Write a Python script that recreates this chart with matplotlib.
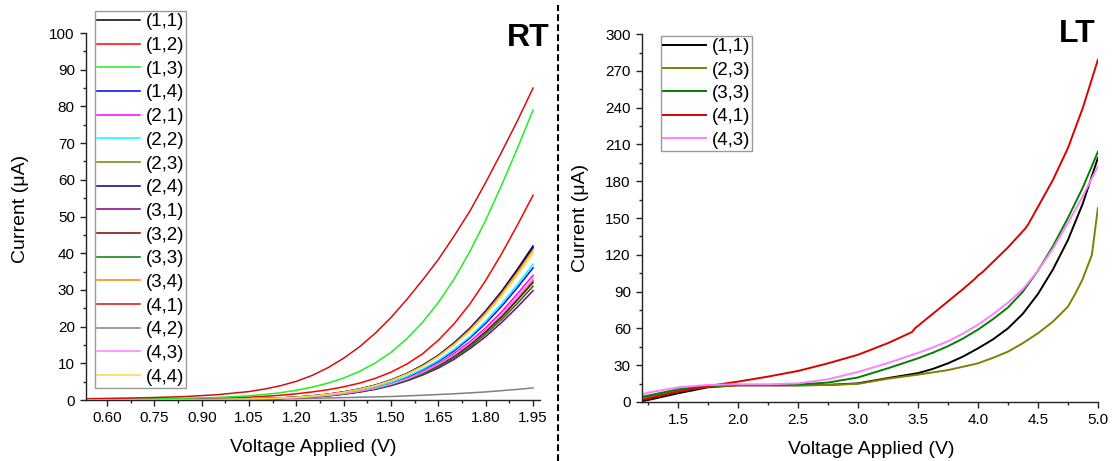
import matplotlib
matplotlib.use("Agg")
import matplotlib.pyplot as plt
from matplotlib.lines import Line2D
from matplotlib.ticker import MultipleLocator, FormatStrFormatter

plt.rcParams["font.family"] = ["Liberation Sans", "DejaVu Sans"]

# --- RT data (room temperature) ---
rt_v = [0.533, 0.65, 0.75, 0.85, 0.95, 1.05, 1.1, 1.15, 1.2, 1.25, 1.3, 1.35,
        1.4, 1.45, 1.5, 1.55, 1.6, 1.65, 1.7, 1.75, 1.8, 1.85, 1.9, 1.95]
rt_labels = ["(1,1)", "(1,2)", "(1,3)", "(1,4)", "(2,1)", "(2,2)", "(2,3)", "(2,4)",
             "(3,1)", "(3,2)", "(3,3)", "(3,4)", "(4,1)", "(4,2)", "(4,3)", "(4,4)"]
rt_i11 = [0.01, 0.02, 0.04, 0.07, 0.13, 0.27, 0.38, 0.56, 0.79, 1.12, 1.57, 2.2,
          3.0, 4.05, 5.4, 7.2, 9.4, 12.1, 15.5, 19.4, 24.0, 29.3, 35.2, 41.5]
rt_i12 = [0.06, 0.1, 0.16, 0.27, 0.45, 0.78, 1.0, 1.3, 1.7, 2.2, 2.8, 3.6,
          4.6, 5.9, 7.6, 9.8, 12.6, 16.3, 20.8, 26.2, 32.6, 39.8, 47.6, 55.8]
rt_i13 = [0.12, 0.2, 0.3, 0.45, 0.7, 1.15, 1.5, 2.0, 2.65, 3.5, 4.6, 6.0,
          7.8, 10.1, 13.0, 16.7, 21.2, 26.6, 33, 40.5, 49, 58.5, 68.5, 79]
rt_i14 = [0.01, 0.02, 0.035, 0.06, 0.11, 0.24, 0.33, 0.48, 0.68, 0.97, 1.36, 1.9,
          2.6, 3.5, 4.7, 6.2, 8.2, 10.5, 13.4, 16.9, 20.9, 25.5, 30.6, 36]
rt_i21 = [0.01, 0.02, 0.03, 0.06, 0.11, 0.22, 0.32, 0.46, 0.65, 0.91, 1.28, 1.78,
          2.45, 3.3, 4.4, 5.9, 7.7, 9.9, 12.7, 15.9, 19.7, 24.0, 28.9, 34]
rt_i22 = [0.01, 0.02, 0.035, 0.06, 0.12, 0.24, 0.34, 0.5, 0.7, 1.0, 1.4, 1.95,
          2.65, 3.6, 4.8, 6.4, 8.4, 10.8, 13.8, 17.3, 21.5, 26.2, 31.4, 37]
rt_i23 = [0.01, 0.02, 0.03, 0.06, 0.1, 0.21, 0.3, 0.44, 0.62, 0.87, 1.23, 1.7,
          2.35, 3.15, 4.25, 5.6, 7.4, 9.5, 12.1, 15.2, 18.9, 23.0, 27.6, 32.5]
rt_i24 = [0.01, 0.02, 0.04, 0.07, 0.13, 0.28, 0.39, 0.56, 0.8, 1.12, 1.58, 2.2,
          3.0, 4.05, 5.45, 7.2, 9.5, 12.2, 15.6, 19.6, 24.3, 29.6, 35.6, 42]
rt_i31 = [0.01, 0.015, 0.03, 0.05, 0.09, 0.2, 0.28, 0.4, 0.57, 0.8, 1.13, 1.56,
          2.15, 2.9, 3.9, 5.2, 6.8, 8.7, 11.1, 14.0, 17.3, 21.1, 25.3, 29.8]
rt_i32 = [0.01, 0.02, 0.03, 0.05, 0.1, 0.21, 0.3, 0.43, 0.61, 0.86, 1.21, 1.68,
          2.3, 3.1, 4.2, 5.5, 7.3, 9.4, 11.9, 15.0, 18.6, 22.6, 27.2, 32]
rt_i33 = [0.01, 0.02, 0.03, 0.05, 0.1, 0.2, 0.29, 0.42, 0.59, 0.83, 1.17, 1.63,
          2.25, 3.0, 4.05, 5.4, 7.0, 9.1, 11.6, 14.5, 18.0, 21.9, 26.3, 31]
rt_i34 = [0.01, 0.02, 0.04, 0.07, 0.13, 0.27, 0.38, 0.55, 0.78, 1.1, 1.55, 2.15,
          2.95, 4.0, 5.35, 7.1, 9.3, 12.0, 15.3, 19.2, 23.8, 29.0, 34.8, 41]
rt_i41 = [0.35, 0.5, 0.68, 0.95, 1.45, 2.3, 3.0, 3.9, 5.1, 6.7, 8.8, 11.4,
          14.5, 18.2, 22.5, 27.4, 32.7, 38.3, 44.7, 51.5, 59.3, 67.5, 76, 85]
rt_i42 = [0.02, 0.03, 0.06, 0.11, 0.17, 0.25, 0.29, 0.34, 0.4, 0.48, 0.56, 0.65,
          0.75, 0.85, 0.95, 1.12, 1.3, 1.5, 1.7, 1.95, 2.2, 2.55, 2.9, 3.3]
rt_i43 = [0.01, 0.02, 0.03, 0.06, 0.1, 0.22, 0.31, 0.44, 0.63, 0.89, 1.25, 1.73,
          2.4, 3.2, 4.3, 5.7, 7.5, 9.7, 12.3, 15.5, 19.2, 23.3, 28.0, 33]
rt_i44 = [0.01, 0.02, 0.04, 0.07, 0.13, 0.26, 0.37, 0.54, 0.76, 1.08, 1.52, 2.1,
          2.9, 3.9, 5.25, 7.0, 9.1, 11.8, 15.0, 18.8, 23.3, 28.3, 34.0, 40]
rt_currents = [rt_i11, rt_i12, rt_i13, rt_i14, rt_i21, rt_i22, rt_i23, rt_i24,
               rt_i31, rt_i32, rt_i33, rt_i34, rt_i41, rt_i42, rt_i43, rt_i44]
rt_colors = ["#000000", "#FF0000", "#22EE22", "#0000FF", "#FF00FF", "#00FFFF", "#808000", "#000080",
             "#800080", "#800000", "#008000", "#FF8000", "#D01010", "#808080", "#FF80FF", "#EEDD44"]

# --- LT data (low temperature) ---
lt_labels = ["(1,1)", "(2,3)", "(3,3)", "(4,1)", "(4,3)"]
lt_v = [1.2, 1.25, 1.5, 1.75, 2.0, 2.25, 2.5, 2.75, 3.0, 3.25, 3.5, 3.625,
        3.75, 3.875, 4.0, 4.125, 4.25, 4.375, 4.5, 4.625, 4.75, 4.875, 5.0]
lt_i11 = [0.7, 1.6, 7.1, 12, 13.6, 13.6, 13.6, 13.9, 15.2, 19.5, 23.5, 27,
          31.5, 37, 43.7, 51, 60, 72, 88, 108, 132, 162, 199]
lt_i33 = [4.3, 5.2, 10.3, 13.3, 13.9, 13.9, 14.3, 15.8, 20, 27.5, 35.6, 40.2,
          45.5, 51.7, 59, 67.5, 77, 90, 107, 127, 150, 175, 204]
lt_i43 = [6.2, 7.6, 12, 13.9, 14.4, 14.4, 15.2, 18.5, 24.5, 31.8, 40, 44.5,
          49.5, 55.8, 63, 71.5, 81, 92, 107, 125, 146, 168, 192]
lt_v23 = [1.2, 1.25, 1.5, 1.75, 2.0, 2.25, 2.5, 2.75, 3.0, 3.25, 3.5, 3.75, 4.0,
          4.125, 4.25, 4.375, 4.5, 4.625, 4.75, 4.81, 4.87, 4.95, 5.0]
lt_i23 = [3, 4.3, 9, 12.5, 13.6, 13.6, 13.6, 13.9, 14.8, 19, 22.3, 26, 31.5,
          36, 41, 48, 56, 65.5, 77.7, 88, 99.5, 120, 158]
lt_v41 = [1.2, 1.25, 1.5, 1.75, 2.0, 2.25, 2.5, 2.75, 3.0, 3.25, 3.45, 3.48, 3.5, 3.625,
          3.75, 3.875, 3.97, 4.0, 4.04, 4.25, 4.4, 4.42, 4.5, 4.625, 4.75, 4.875, 5.0]
lt_i41 = [1.6, 3, 8.4, 13, 16.6, 20.7, 25.3, 31.5, 38.5, 48, 57, 60.5, 62, 72,
          82, 92, 100, 103, 106, 126, 142, 145, 159, 181, 207, 240, 279]
lt_series = [(lt_v, lt_i11), (lt_v23, lt_i23), (lt_v, lt_i33), (lt_v41, lt_i41), (lt_v, lt_i43)]
lt_colors = ["#000000", "#808000", "#008000", "#DD0000", "#FF80FF"]

fig = plt.figure(figsize=(11.12, 4.61), dpi=100)
ax1 = fig.add_axes([0.0773, 0.1323, 0.4083, 0.796])
ax2 = fig.add_axes([0.5773, 0.128, 0.410, 0.798])


def style_axes(ax):
    for s in ["top", "right"]:
        ax.spines[s].set_visible(False)
    for s in ["left", "bottom"]:
        ax.spines[s].set_linewidth(1.0)
        ax.spines[s].set_color("#222222")
    ax.tick_params(which="major", direction="out", length=4.5, width=1.0,
                   labelsize=11, color="#222222", pad=3.5)
    ax.tick_params(which="minor", direction="out", length=2.5, width=1.0, color="#222222")


def add_legend(ax, anchor, spacing):
    leg = ax.legend(loc="upper left", bbox_to_anchor=anchor, borderaxespad=0,
                    fontsize=13.5, handlelength=2.3, handletextpad=0.27, labelspacing=spacing,
                    borderpad=0.12, fancybox=False, framealpha=1, edgecolor="#999999")
    leg.get_frame().set_linewidth(1.0)
    return leg


# ---- RT ----
for cur, col, lab in zip(rt_currents, rt_colors, rt_labels):
    ax1.plot(rt_v, cur, color=col, linewidth=1.1, label=lab)
ax1.set_xlim(0.533, 1.972)
ax1.set_ylim(0, 100)
ax1.xaxis.set_major_locator(MultipleLocator(0.15))
ax1.xaxis.set_minor_locator(MultipleLocator(0.075))
ax1.xaxis.set_major_formatter(FormatStrFormatter("%.2f"))
ax1.yaxis.set_major_locator(MultipleLocator(10))
ax1.yaxis.set_minor_locator(MultipleLocator(5))
style_axes(ax1)
ax1.set_xlabel("Voltage Applied (V)", fontsize=14)
ax1.set_ylabel("Current (μA)", fontsize=14)
ax1.xaxis.set_label_coords(0.5, -0.105)
ax1.yaxis.set_label_coords(-0.126, 0.52)
add_legend(ax1, (0.02, 1.06), 0.35)

# ---- LT ----
for (v, cur), col, lab in zip(lt_series, lt_colors, lt_labels):
    ax2.plot(v, cur, color=col, linewidth=1.4, label=lab)
ax2.set_xlim(1.2, 5.0)
ax2.set_ylim(0, 300)
ax2.xaxis.set_major_locator(MultipleLocator(0.5))
ax2.xaxis.set_minor_locator(MultipleLocator(0.25))
ax2.xaxis.set_major_formatter(FormatStrFormatter("%.1f"))
ax2.yaxis.set_major_locator(MultipleLocator(30))
ax2.yaxis.set_minor_locator(MultipleLocator(15))
style_axes(ax2)
ax2.set_xlabel("Voltage Applied (V)", fontsize=14)
ax2.set_ylabel("Current (μA)", fontsize=14)
ax2.xaxis.set_label_coords(0.504, -0.105)
ax2.yaxis.set_label_coords(-0.116, 0.5)
add_legend(ax2, (0.042, 0.995), 0.33)

# panel tags and divider
fig.text(0.4946, 0.900, "RT", fontsize=23, fontweight="bold", ha="right", va="baseline")
fig.text(0.9856, 0.909, "LT", fontsize=23, fontweight="bold", ha="right", va="baseline")
fig.add_artist(Line2D([0.502, 0.502], [0.0, 0.99], transform=fig.transFigure,
                      color="black", linewidth=1.5, linestyle=(0, (3.2, 1.6))))

fig.savefig("out.png", dpi=100)
